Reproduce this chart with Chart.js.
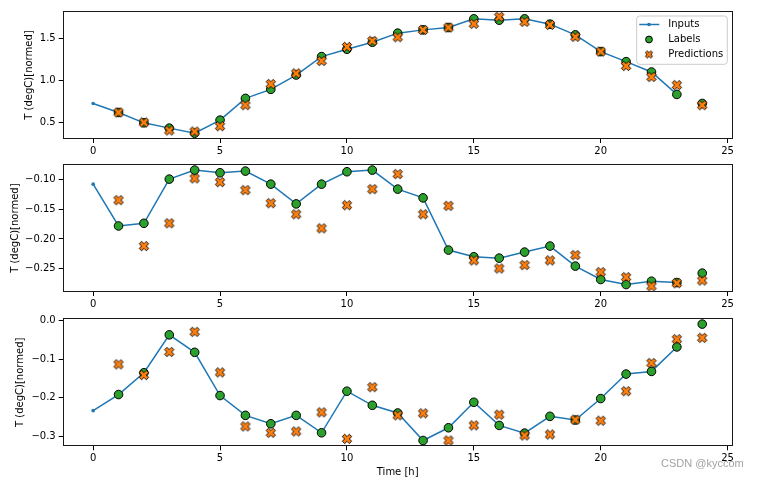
<!DOCTYPE html>
<html><head><meta charset="utf-8">
<script src="https://cdn.jsdelivr.net/npm/chart.js@4.4.1/dist/chart.umd.min.js"></script>
<style>
html,body{margin:0;padding:0;background:#fff;}
#wrap{position:relative;width:759px;height:480px;overflow:hidden;background:#fff;}
#wrap canvas{position:absolute;left:0;top:0;}
#wm{position:absolute;left:661px;top:457px;font:11px "Liberation Sans",Arial,sans-serif;color:#a3a3a3;white-space:nowrap;}
</style></head><body>
<div id="wrap">
<canvas id="c0" width="759" height="480"></canvas>
<canvas id="c1" width="759" height="480"></canvas>
<canvas id="c2" width="759" height="480"></canvas>
<div id="wm">CSDN @kyccom</div>
</div>
<script>
// ---- data ----
const inputTimes = [0,1,2,3,4,5,6,7,8,9,10,11,12,13,14,15,16,17,18,19,20,21,22,23];
const labelTimes = [1,2,3,4,5,6,7,8,9,10,11,12,13,14,15,16,17,18,19,20,21,22,23,24];
const xTicks = [0,5,10,15,20,25];
const xTitle = 'Time [h]';
const yTitle = 'T (degC)[normed]';
const seriesNames = ['Inputs','Labels','Predictions'];

const inputs1 = [0.726,0.619,0.496,0.433,0.373,0.528,0.786,0.893,1.063,1.282,1.369,1.452,1.560,1.599,1.627,1.730,1.714,1.730,1.667,1.540,1.341,1.222,1.099,0.833];
const labels1 = [0.619,0.496,0.433,0.373,0.528,0.786,0.893,1.063,1.282,1.369,1.452,1.560,1.599,1.627,1.730,1.714,1.730,1.667,1.540,1.341,1.222,1.099,0.833,0.726];
const preds1  = [0.619,0.500,0.405,0.393,0.456,0.706,0.956,1.083,1.230,1.397,1.468,1.512,1.599,1.627,1.671,1.754,1.694,1.659,1.516,1.341,1.171,1.040,0.944,0.706];
const yTicks1 = [0.5,1.0,1.5];
const yTickLabels1 = ['0.5','1.0','1.5'];

const inputs2 = [-0.1074,-0.1781,-0.1736,-0.0989,-0.0836,-0.0881,-0.0853,-0.1074,-0.1408,-0.1074,-0.0864,-0.0836,-0.1158,-0.1306,-0.2189,-0.2302,-0.2325,-0.2223,-0.2121,-0.2460,-0.2687,-0.2772,-0.2715,-0.2738];
const labels2 = [-0.1781,-0.1736,-0.0989,-0.0836,-0.0881,-0.0853,-0.1074,-0.1408,-0.1074,-0.0864,-0.0836,-0.1158,-0.1306,-0.2189,-0.2302,-0.2325,-0.2223,-0.2121,-0.2460,-0.2687,-0.2772,-0.2715,-0.2738,-0.2579];
const preds2  = [-0.1345,-0.2121,-0.1736,-0.0977,-0.1040,-0.1175,-0.1396,-0.1583,-0.1821,-0.1430,-0.1158,-0.0904,-0.1583,-0.1441,-0.2364,-0.2500,-0.2443,-0.2364,-0.2274,-0.2562,-0.2647,-0.2800,-0.2749,-0.2704];
const yTicks2 = [-0.25,-0.20,-0.15,-0.10];
const yTickLabels2 = ['\u22120.25','\u22120.20','\u22120.15','\u22120.10'];

const inputs3 = [-0.2332,-0.1916,-0.1353,-0.0373,-0.0824,-0.1942,-0.2454,-0.2671,-0.2454,-0.2905,-0.1830,-0.2194,-0.2393,-0.3104,-0.2775,-0.2116,-0.2714,-0.2913,-0.2480,-0.2575,-0.2020,-0.1387,-0.1318,-0.0685];
const labels3 = [-0.1916,-0.1353,-0.0373,-0.0824,-0.1942,-0.2454,-0.2671,-0.2454,-0.2905,-0.1830,-0.2194,-0.2393,-0.3104,-0.2775,-0.2116,-0.2714,-0.2913,-0.2480,-0.2575,-0.2020,-0.1387,-0.1318,-0.0685,-0.0095];
const preds3  = [-0.1136,-0.1413,-0.0815,-0.0295,-0.1344,-0.2740,-0.2905,-0.2870,-0.2376,-0.3061,-0.1725,-0.2454,-0.2402,-0.3104,-0.2714,-0.2436,-0.2974,-0.2948,-0.2567,-0.2593,-0.1830,-0.1101,-0.0486,-0.0451];
const yTicks3 = [-0.3,-0.2,-0.1,0.0];
const yTickLabels3 = ['\u22120.3','\u22120.2','\u22120.1','0.0'];

// ---- styling / layout ----
const FONT = '"DejaVu Sans", Verdana, sans-serif';
const C_IN = '#1f77b4', C_LAB = '#2ca02c', C_PRED = '#ff7f0e';
const PLOT_LEFT = 62.7, PLOT_RIGHT = 732.7, W = 759, H = 480;

function makeXMarker(size, fill, edge, lw) {
  const c = document.createElement('canvas');
  const w = Math.ceil(size + 4);
  c.width = c.height = w;
  const g = c.getContext('2d');
  const pts = [[-1,-2],[0,-1],[1,-2],[2,-1],[1,0],[2,1],[1,2],[0,1],[-1,2],[-2,1],[-1,0],[-2,-1]];
  const s = size / 4;
  g.translate(w / 2, w / 2);
  g.beginPath();
  pts.forEach(([x, y], i) => i ? g.lineTo(x * s, y * s) : g.moveTo(x * s, y * s));
  g.closePath();
  g.fillStyle = fill; g.fill();
  g.lineWidth = lw; g.strokeStyle = edge; g.lineJoin = 'miter'; g.stroke();
  return c;
}
const xMarker = makeXMarker(9.4, C_PRED, '#000', 0.9);
const xMarkerSmall = makeXMarker(7.2, C_PRED, '#000', 0.9);

const framePlugin = {
  id: 'frame',
  afterDraw(chart) {
    const a = chart.chartArea, ctx = chart.ctx;
    ctx.save();
    ctx.strokeStyle = '#1a1a1a'; ctx.lineWidth = 1;
    const l = Math.round(a.left) + 0.5, t = Math.round(a.top) + 0.5;
    const r = Math.round(a.right) - 0.5, b = Math.round(a.bottom) - 0.5;
    ctx.strokeRect(l, t, r - l, b - t);
    ctx.restore();
  }
};

const legendPlugin = {
  id: 'mplLegend',
  afterDraw(chart, args, opts) {
    if (!opts.show) return;
    const ctx = chart.ctx;
    const bx = 636.7, by = 16, bw = 90.6, bh = 48.3, rad = 3;
    ctx.save();
    ctx.beginPath();
    ctx.moveTo(bx + rad, by);
    ctx.arcTo(bx + bw, by, bx + bw, by + bh, rad);
    ctx.arcTo(bx + bw, by + bh, bx, by + bh, rad);
    ctx.arcTo(bx, by + bh, bx, by, rad);
    ctx.arcTo(bx, by, bx + bw, by, rad);
    ctx.closePath();
    ctx.fillStyle = 'rgba(255,255,255,0.8)'; ctx.fill();
    ctx.strokeStyle = '#cccccc'; ctx.lineWidth = 1; ctx.stroke();
    const rows = [24.5, 39.5, 54.5];
    const mx = 649, tx = 668.3;
    // Inputs
    ctx.strokeStyle = C_IN; ctx.lineWidth = 1.5;
    ctx.beginPath(); ctx.moveTo(639.3, rows[0]); ctx.lineTo(659.3, rows[0]); ctx.stroke();
    ctx.fillStyle = C_IN; ctx.beginPath(); ctx.arc(mx, rows[0], 1.8, 0, Math.PI * 2); ctx.fill();
    // Labels
    ctx.fillStyle = C_LAB; ctx.strokeStyle = '#000'; ctx.lineWidth = 1;
    ctx.beginPath(); ctx.arc(mx, rows[1], 3.4, 0, Math.PI * 2); ctx.fill(); ctx.stroke();
    // Predictions
    ctx.drawImage(xMarkerSmall, mx - xMarkerSmall.width / 2, rows[2] - xMarkerSmall.height / 2);
    ctx.fillStyle = '#000'; ctx.font = '10px ' + FONT; ctx.textBaseline = 'middle'; ctx.textAlign = 'left';
    seriesNames.forEach((n, i) => ctx.fillText(n, tx, rows[i]));
    ctx.restore();
  }
};

function pts(xs, ys) { return xs.map((x, i) => ({ x: x, y: ys[i] })); }

function makePanel(id, inp, lab, pred, yMin, yMax, yT, yTL, top, bottom, yTitlePad, isLast, showLegend) {
  const xAxisH = isLast ? (H - bottom) : 25;
  const padBottom = H - bottom - xAxisH;
  new Chart(document.getElementById(id), {
    type: 'scatter',
    data: {
      datasets: [
        { label: seriesNames[2], data: pts(labelTimes, pred), pointStyle: xMarker, pointRadius: 5, order: 0 },
        { label: seriesNames[1], data: pts(labelTimes, lab), pointStyle: 'circle', pointRadius: 4.3,
          pointBackgroundColor: C_LAB, pointBorderColor: '#000', pointBorderWidth: 1, order: 1 },
        { label: seriesNames[0], data: pts(inputTimes, inp), showLine: true, borderColor: C_IN, borderWidth: 1.5,
          pointRadius: 1.8, pointBackgroundColor: C_IN, pointBorderWidth: 0, tension: 0, order: 2 }
      ]
    },
    options: {
      responsive: false, animation: false, devicePixelRatio: 1, events: [],
      layout: { padding: { left: 0, right: W - PLOT_RIGHT, top: top, bottom: padBottom } },
      plugins: { legend: { display: false }, tooltip: { enabled: false }, mplLegend: { show: showLegend } },
      scales: {
        x: {
          type: 'linear', min: -1.2, max: 25.2,
          afterBuildTicks: s => { s.ticks = xTicks.map(v => ({ value: v })); },
          afterFit: s => { s.height = xAxisH; },
          ticks: { autoSkip: false, maxRotation: 0, padding: 2, color: '#000', font: { family: FONT, size: 10 },
                   callback: v => String(v) },
          grid: { display: true, drawOnChartArea: false, drawTicks: true, tickLength: 4, tickColor: '#000', tickWidth: 1 },
          border: { display: false },
          title: { display: isLast, text: xTitle, color: '#000', font: { family: FONT, size: 10 }, padding: { top: 0, bottom: 1.7 } }
        },
        y: {
          type: 'linear', min: yMin, max: yMax,
          afterBuildTicks: s => { s.ticks = yT.map(v => ({ value: v })); },
          afterFit: s => { s.width = PLOT_LEFT; },
          ticks: { autoSkip: false, padding: 3, color: '#000', font: { family: FONT, size: 10 },
                   callback: v => yTL[yT.indexOf(v)] },
          grid: { display: true, drawOnChartArea: false, drawTicks: true, tickLength: 4, tickColor: '#000', tickWidth: 1 },
          border: { display: false },
          title: { display: true, text: yTitle, color: '#000', font: { family: FONT, size: 10 }, padding: { top: yTitlePad, bottom: 0 } }
        }
      }
    },
    plugins: [framePlugin, legendPlugin]
  });
}

makePanel('c0', inputs1, labels1, preds1, 0.304, 1.823, yTicks1, yTickLabels1, 11, 139, 23, false, true);
makePanel('c1', inputs2, labels2, preds2, -0.2898, -0.0738, yTicks2, yTickLabels2, 164.3, 292, 9, false, false);
makePanel('c2', inputs3, labels3, preds3, -0.3254, 0.0055, yTicks3, yTickLabels3, 318.3, 446.3, 14, true, false);
</script>
</body></html>
